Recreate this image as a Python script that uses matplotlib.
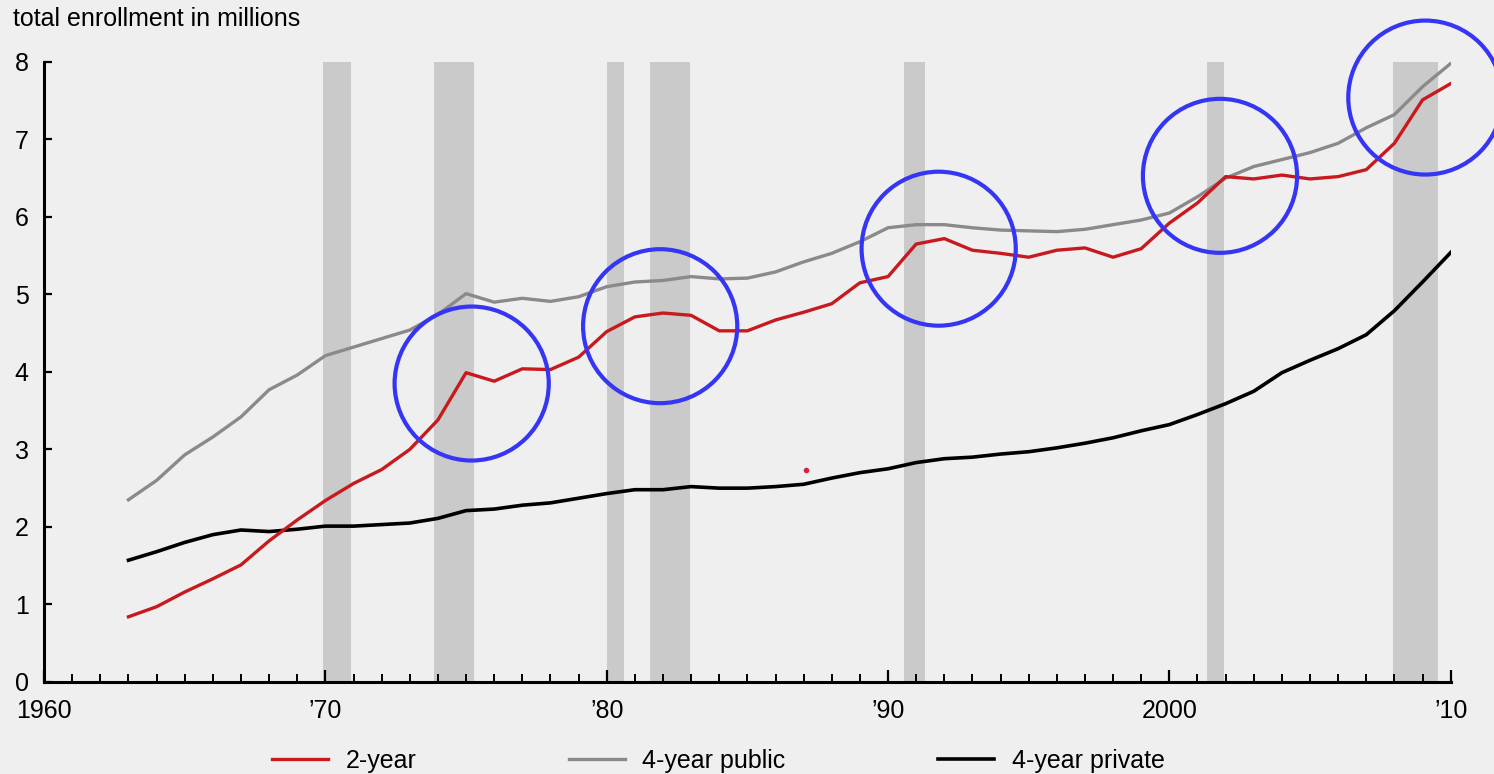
import matplotlib
matplotlib.use("Agg")
import matplotlib.pyplot as plt
from matplotlib.patches import Ellipse
from matplotlib.ticker import MultipleLocator

plt.rcParams['font.family'] = ['Liberation Sans', 'DejaVu Sans']

# enrollment in millions, fall 1963 - 2010
years = list(range(1963, 2011))
two_year = [0.84, 0.97, 1.16, 1.33, 1.51, 1.82, 2.09, 2.34, 2.56, 2.74, 3.00, 3.38,
            3.99, 3.88, 4.04, 4.03, 4.19, 4.52, 4.71, 4.76, 4.73, 4.53, 4.53, 4.67,
            4.77, 4.88, 5.15, 5.23, 5.65, 5.72, 5.57, 5.53, 5.48, 5.57, 5.60, 5.48,
            5.59, 5.92, 6.18, 6.52, 6.49, 6.54, 6.49, 6.52, 6.61, 6.95, 7.51, 7.72]
four_year_public = [2.35, 2.60, 2.93, 3.16, 3.42, 3.77, 3.96, 4.21, 4.32, 4.43, 4.54, 4.74,
                    5.01, 4.90, 4.95, 4.91, 4.97, 5.10, 5.16, 5.18, 5.23, 5.20, 5.21, 5.29,
                    5.42, 5.53, 5.68, 5.86, 5.90, 5.90, 5.86, 5.83, 5.82, 5.81, 5.84, 5.90,
                    5.96, 6.05, 6.26, 6.50, 6.65, 6.74, 6.83, 6.95, 7.15, 7.32, 7.68, 7.98]
four_year_private = [1.57, 1.68, 1.80, 1.90, 1.96, 1.94, 1.97, 2.01, 2.01, 2.03, 2.05, 2.11,
                     2.21, 2.23, 2.28, 2.31, 2.37, 2.43, 2.48, 2.48, 2.52, 2.50, 2.50, 2.52,
                     2.55, 2.63, 2.70, 2.75, 2.83, 2.88, 2.90, 2.94, 2.97, 3.02, 3.08, 3.15,
                     3.24, 3.32, 3.45, 3.59, 3.75, 3.99, 4.15, 4.30, 4.48, 4.79, 5.16, 5.54]

# recession periods (start, end) in fractional years
recessions = [(1969.9, 1970.9), (1973.85, 1975.3), (1980.0, 1980.6),
              (1981.55, 1982.95), (1990.55, 1991.3), (2001.35, 2001.95),
              (2007.95, 2009.55)]

# highlighted spots (center year, center value)
highlights = [(1975.2, 3.85), (1981.9, 4.59), (1991.8, 5.59), (2001.8, 6.53), (2009.1, 7.54)]

x_labels = {1960: '1960', 1970: '\u201970', 1980: '\u201980', 1990: '\u201990',
            2000: '2000', 2010: '\u201910'}

bg = '#efefef'
fig = plt.figure(figsize=(14.94, 7.74), dpi=100, facecolor=bg)
ax = fig.add_axes([0.0295, 0.119, 0.9415, 0.801], facecolor=bg)

for start, end in recessions:
    ax.axvspan(start, end, ymin=0, ymax=1, color='#cacaca', lw=0, zorder=0)

ax.plot(years, two_year, color='#c81a1e', lw=2.4, label='2-year', zorder=3)
ax.plot(years, four_year_public, color='#8a8a8a', lw=2.4, label='4-year public', zorder=2)
ax.plot(years, four_year_private, color='black', lw=2.6, label='4-year private', zorder=2)

# stray red dot in the original
ax.plot([1987.1], [2.74], marker='o', ms=3, color='#e0203a', zorder=3)

# circles drawn as ellipses in data units so they look round on screen
w = 2 * 77 / 28.1
h = 2 * 77 / 77.5
for cx, cy in highlights:
    ax.add_patch(Ellipse((cx, cy), w, h, fill=False, ec='#3535f5', lw=3.0,
                         zorder=5, clip_on=False))

ax.set_xlim(1960, 2010)
ax.set_ylim(0, 8)
for side in ['top', 'right']:
    ax.spines[side].set_visible(False)
for side in ['left', 'bottom']:
    ax.spines[side].set_linewidth(2.2)

ax.set_xticks(list(x_labels.keys()))
ax.set_xticklabels(list(x_labels.values()))
ax.xaxis.set_minor_locator(MultipleLocator(1))
ax.tick_params(axis='x', which='major', direction='in', length=8.5, width=1.6,
               labelsize=18, pad=12)
ax.tick_params(axis='x', which='minor', direction='in', length=6, width=1.4)
ax.set_yticks(range(0, 9))
ax.tick_params(axis='y', direction='in', length=6, width=1.6, labelsize=18, pad=11)

fig.text(0.009, 0.975, 'total enrollment in millions', fontsize=18, va='center', ha='left')

fig.legend(loc='center left', bbox_to_anchor=(0.167, 0.017), ncol=3, frameon=False,
           fontsize=18, handlelength=2.24, handletextpad=0.7, columnspacing=6.1)

fig.savefig('out.png', dpi=100, facecolor=bg)
